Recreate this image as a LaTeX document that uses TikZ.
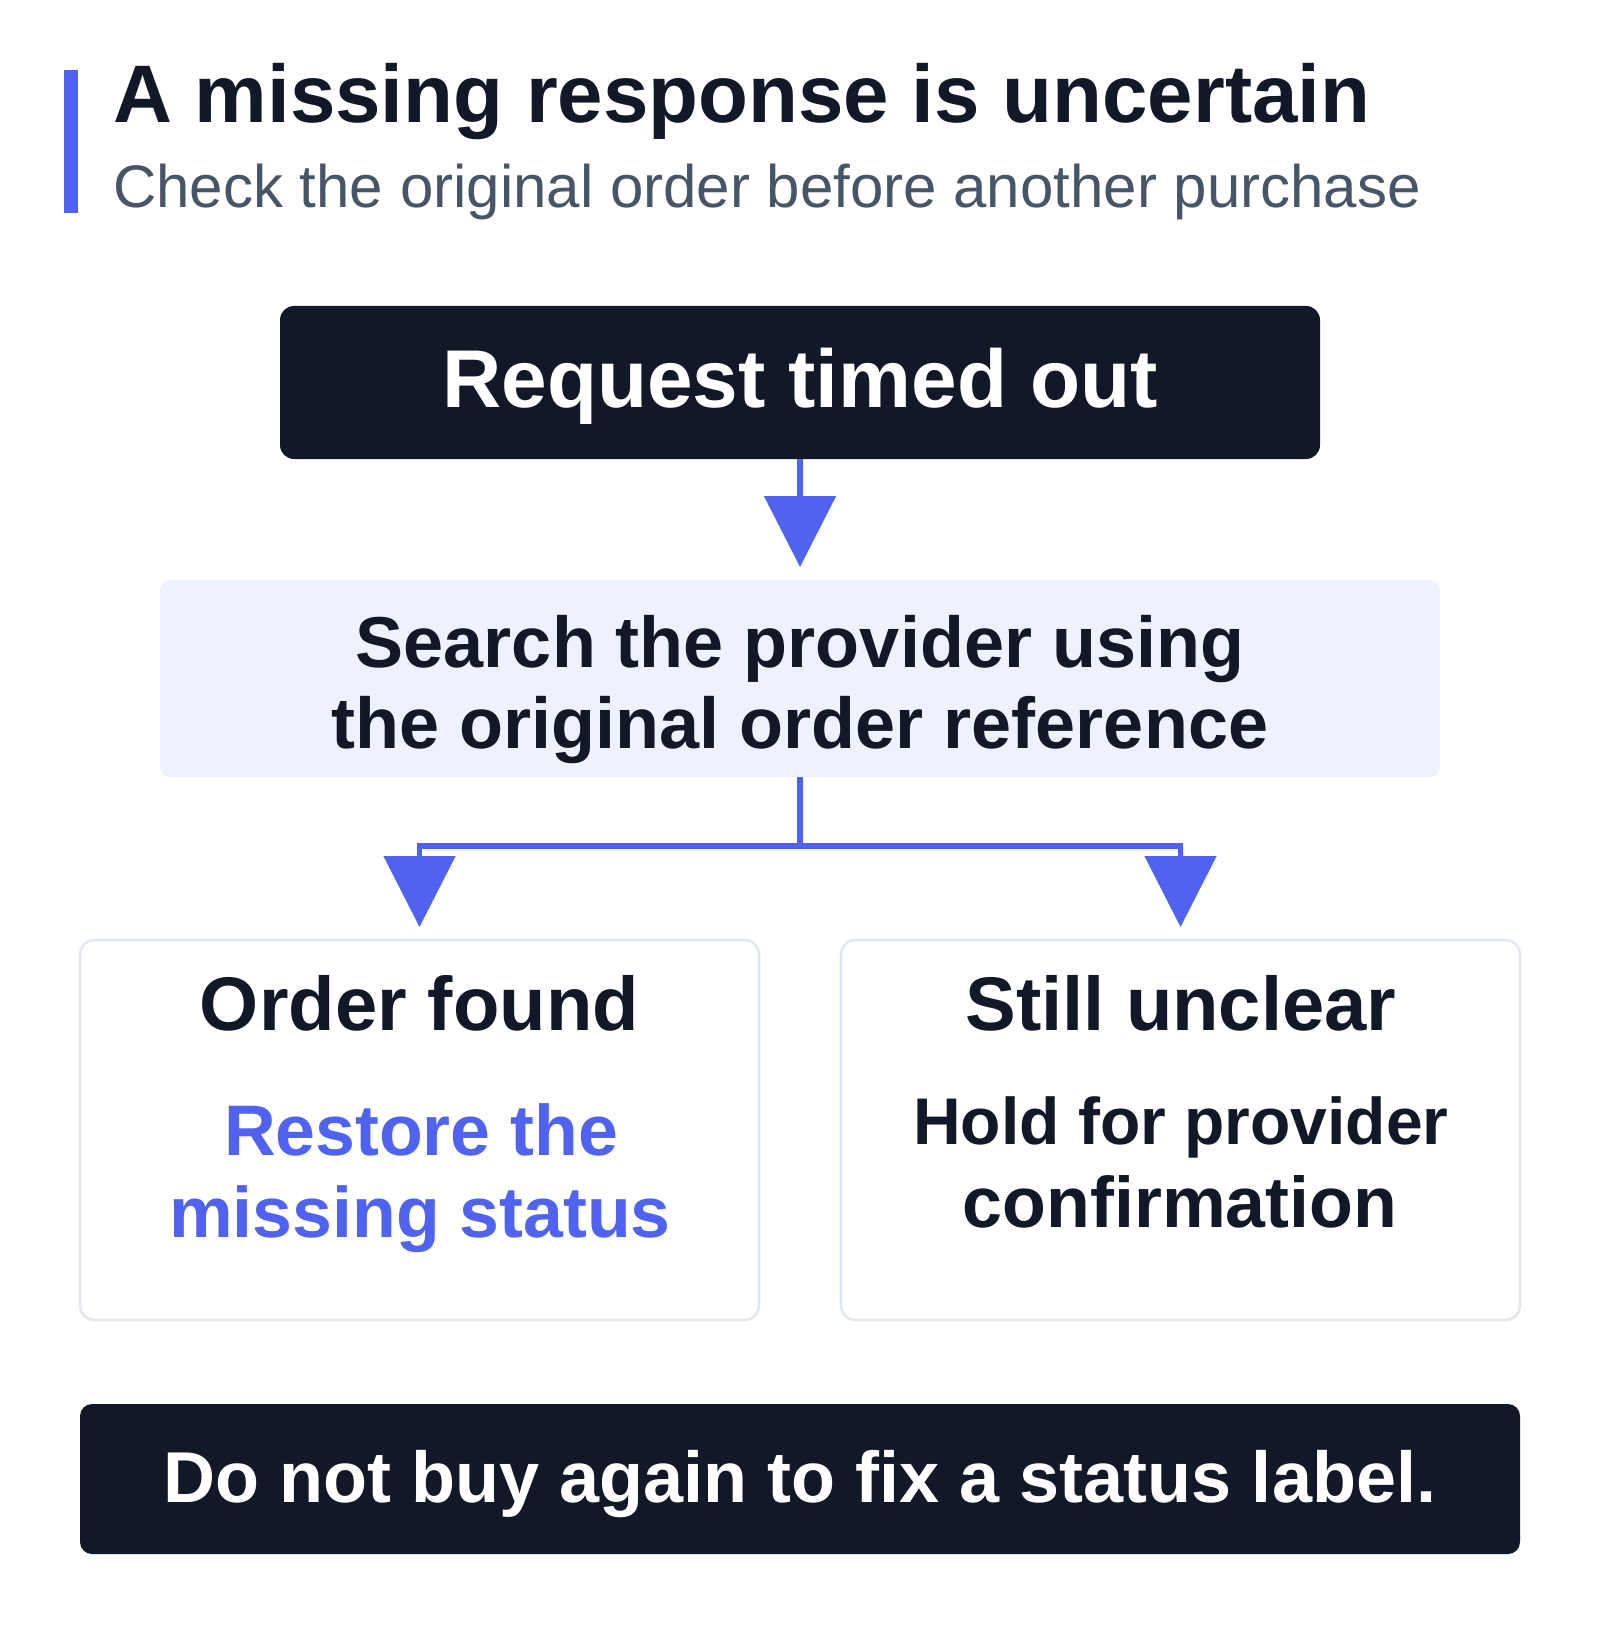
\documentclass[tikz,border=0pt]{standalone}
\usepackage{fontspec}
\setmainfont{Liberation Sans}
\usetikzlibrary{arrows.meta}
\definecolor{ink}{HTML}{111827}
\definecolor{subgray}{HTML}{475569}
\definecolor{accent}{HTML}{5063F0}
\definecolor{pale}{HTML}{EEF2FF}
\definecolor{edgegray}{HTML}{E2E8F0}
\newcommand{\fs}[1]{\fontsize{#1}{#1}\selectfont}
\begin{document}
\begin{tikzpicture}[x=0.75pt,y=-0.75pt,
  darkbox/.style={draw=none,fill=ink,rounded corners=10.5pt,inner sep=0pt},
  palebox/.style={draw=none,fill=pale,rounded corners=7.5pt,inner sep=0pt},
  outlinebox/.style={draw=edgegray,line width=1.9pt,fill=white,rounded corners=11pt,inner sep=0pt},
  txt/.style={inner sep=0pt,anchor=base},
  flow/.style={draw=accent,line width=4.1pt,line join=miter,
    -{Triangle[width=54pt,length=53pt,line width=0.01pt]}}
]
\fill[white] (0,0) rectangle (1600,1640);
\useasboundingbox (0,0) rectangle (1600,1640);

% header
\fill[accent] (64,70) rectangle (78,213);
\node[inner sep=0pt,anchor=base west,text=ink] (title) at (113,123)
  {\fs{61.25pt}\bfseries A missing response is uncertain};
\node[inner sep=0pt,anchor=base west,text=subgray] (subtitle) at (113,208)
  {\fs{45pt}Check the original order before another purchase};

% boxes
\node[darkbox,minimum width=780pt,minimum height=114.75pt] (req) at (800,382.5) {};
\node[txt,text=white] (reqt) at (800,407) {\fs{61.5pt}\bfseries Request timed out};

\node[palebox,minimum width=960pt,minimum height=147.75pt] (search) at (800,678.5) {};
\node[txt,text=ink] (s1) at (800,667) {\fs{54pt}\bfseries Search the provider using};
\node[txt,text=ink] (s2) at (800,748) {\fs{54pt}\bfseries the original order reference};

\node[outlinebox,minimum width=509.25pt,minimum height=285pt] (found) at (419.5,1130) {};
\node[txt,text=ink] (f1) at (419.5,1030) {\fs{57pt}\bfseries Order found};
\node[txt,text=accent] (f2) at (421,1155) {\fs{53.7pt}\bfseries Restore the};
\node[txt,text=accent] (f3) at (420,1237) {\fs{53.7pt}\bfseries missing status};

\node[outlinebox,minimum width=509.25pt,minimum height=285pt] (unclear) at (1180.5,1130) {};
\node[txt,text=ink] (u1) at (1181,1030) {\fs{57pt}\bfseries Still unclear};
\node[txt,text=ink] (u2) at (1181,1144) {\fs{49.5pt}\bfseries Hold for provider};
\node[txt,text=ink] (u3) at (1180,1227) {\fs{53.8pt}\bfseries confirmation};

\node[darkbox,minimum width=1080pt,minimum height=112.5pt,rounded corners=9pt] (note) at (800,1479) {};
\node[txt,text=white] (notet) at (800,1502) {\fs{54pt}\bfseries Do not buy again to fix a status label.};

% connectors
\coordinate (j) at (800,846);
\draw[flow,shorten >=9.75pt] (req.south) -- (search.north);
\draw[flow,-,line cap=butt] (search.south) -- (j);
\draw[flow,shorten >=9pt] (j) -| (found.north);
\draw[flow,shorten >=9pt] (j) -| (unclear.north);
\end{tikzpicture}
\end{document}
